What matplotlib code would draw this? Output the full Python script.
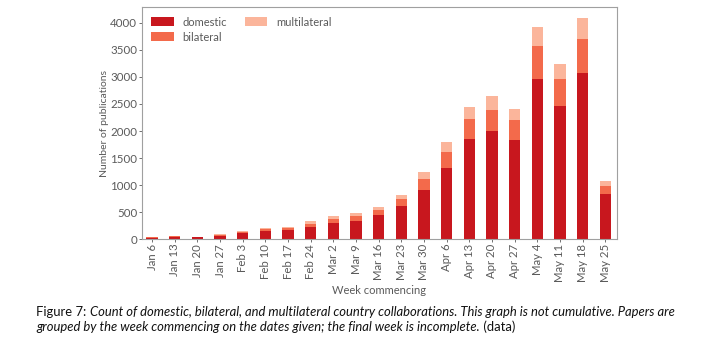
import matplotlib.pyplot as plt
import numpy as np

plt.rcParams['font.family'] = ['Lato', 'DejaVu Sans']

#-------------------------
# DATA
#-------------------------
weeks = ["Jan 6", "Jan 13", "Jan 20", "Jan 27", "Feb 3", "Feb 10", "Feb 17",
         "Feb 24", "Mar 2", "Mar 9", "Mar 16", "Mar 23", "Mar 30", "Apr 6",
         "Apr 13", "Apr 20", "Apr 27", "May 4", "May 11", "May 18", "May 25"]

domestic = [22, 35, 30, 60, 105, 154, 167, 222, 302, 340, 451, 617, 907, 1321,
            1858, 2006, 1840, 2957, 2469, 3080, 840]
bilateral = [10, 14, 10, 18, 25, 32, 38, 50, 62, 86, 92, 124, 204, 296,
             364, 389, 370, 617, 494, 624, 148]
multilateral = [5, 7, 5, 8, 12, 18, 23, 55, 56, 55, 56, 74, 124, 173,
                222, 247, 204, 358, 278, 383, 86]

c_dom = "#c8171e"
c_bil = "#f36a4b"
c_mul = "#fbb59b"
grey = "#5a5a5a"

#-------------------------
# FIGURE
#-------------------------
fig = plt.figure(figsize=(7.06, 3.46), dpi=100)
ax = fig.add_axes([0.201, 0.309, 0.673, 0.670])

x = np.arange(len(weeks))
dom = np.array(domestic)
bil = np.array(bilateral)
mul = np.array(multilateral)

ax.bar(x, dom, width=0.5, color=c_dom, label="domestic")
ax.bar(x, bil, width=0.5, bottom=dom, color=c_bil, label="bilateral")
ax.bar(x, mul, width=0.5, bottom=dom + bil, color=c_mul, label="multilateral")

ax.set_xlim(-0.45, len(weeks) - 0.48)
ax.set_ylim(0, 4290)
ax.set_yticks(range(0, 4001, 500))
ax.set_xticks(x)
ax.set_xticklabels(weeks, rotation=90)

ax.tick_params(colors=grey, length=2.2, width=0.6, pad=1.2)
ax.tick_params(axis="y", labelsize=8.3)
ax.tick_params(axis="x", labelsize=8.2)
for s in ax.spines.values():
    s.set_color("#a0a0a0")
    s.set_linewidth(0.8)

ax.set_ylabel("Number of publications", color=grey, fontsize=7.5, labelpad=0.5)
ax.set_xlabel("Week commencing", color=grey, fontsize=8, labelpad=2)

leg = ax.legend(loc="upper left", ncol=2, frameon=False, fontsize=8,
                handlelength=2.0, handleheight=0.9, columnspacing=1.6,
                labelspacing=0.35, borderaxespad=0.45, handletextpad=0.8)
for t in leg.get_texts():
    t.set_color(grey)

#-------------------------
# CAPTION (mixed styles)
#-------------------------
fig.canvas.draw()
r = fig.canvas.get_renderer()

def put(parts, x0, y0):
    xpos = x0
    for txt, style in parts:
        t = fig.text(xpos, y0, txt, fontsize=9.4, style=style, color="#111111",
                     ha="left", va="baseline", transform=None)
        bb = t.get_window_extent(renderer=r)
        xpos = bb.x1

put([("Figure 7: ", "normal"),
     ("Count of domestic, bilateral, and multilateral country collaborations. "
      "This graph is not cumulative. Papers are", "italic")], 36, 346 - 316)
put([("grouped by the week commencing on the dates given; the final week is incomplete.",
      "italic"), (" (data)", "normal")], 36, 346 - 331)

plt.savefig("out.png", dpi=100)
plt.close()
